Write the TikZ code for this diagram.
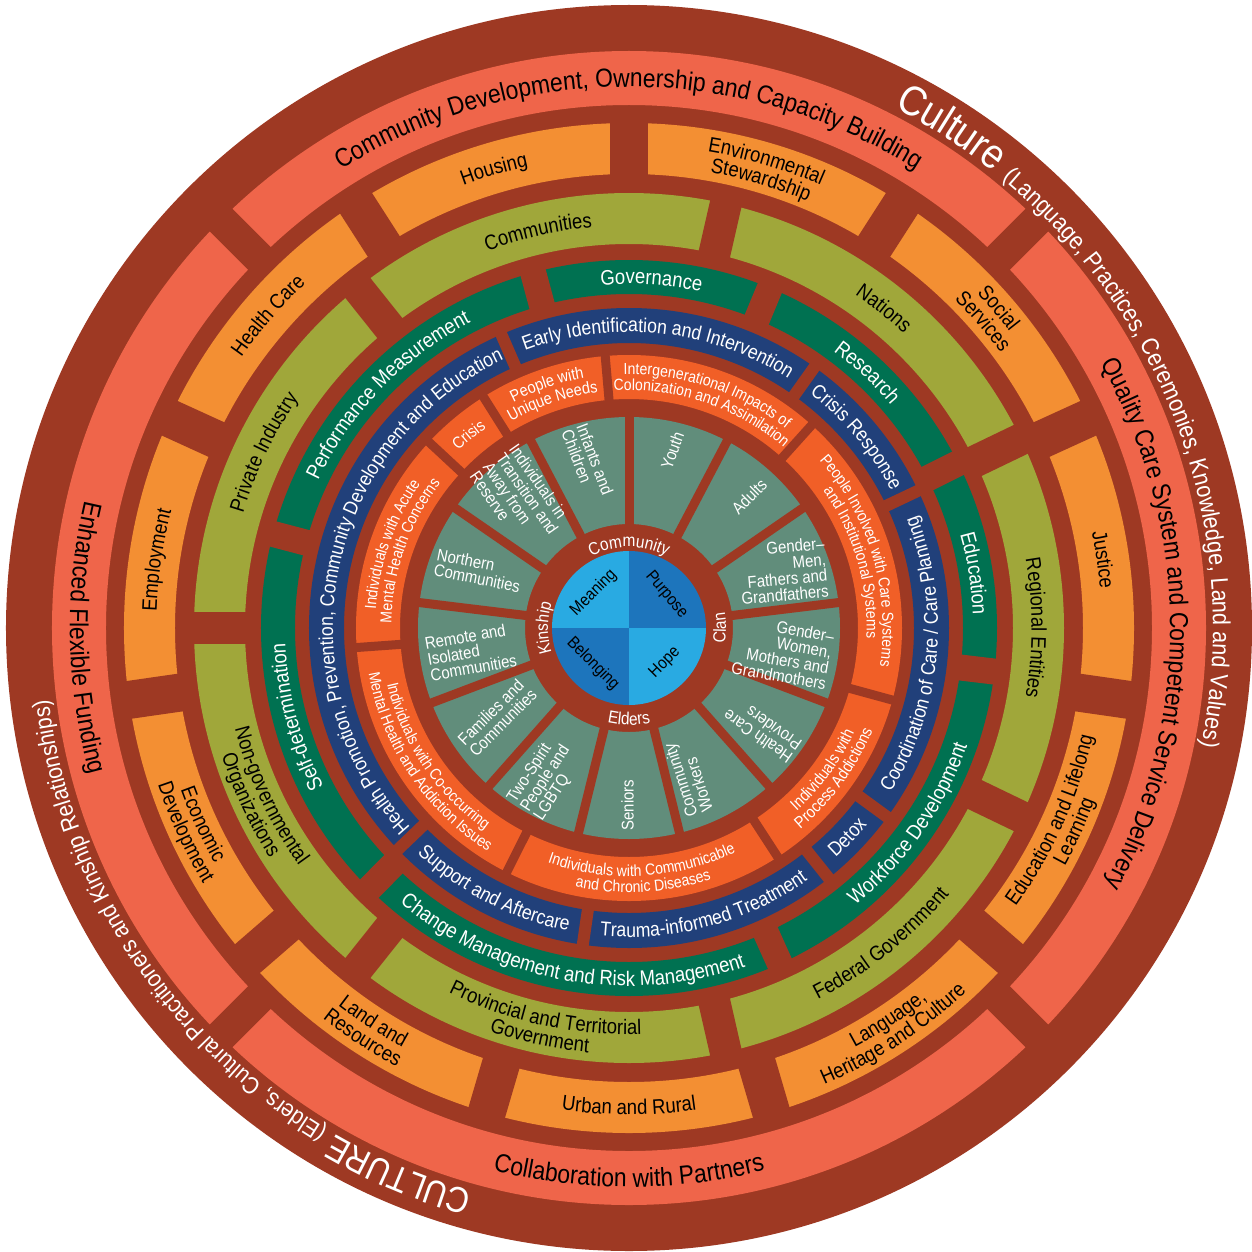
\documentclass[tikz,border=0pt]{standalone}
\usepackage{fontspec}
\setmainfont{Liberation Sans}[FakeStretch=0.88]
\usetikzlibrary{decorations.text}
\definecolor{brn}{RGB}{158,57,35}
\definecolor{salm}{RGB}{239,101,74}
\definecolor{orng}{RGB}{243,143,51}
\definecolor{oliv}{RGB}{160,167,58}
\definecolor{grn}{RGB}{0,113,81}
\definecolor{blu}{RGB}{33,64,122}
\definecolor{ored}{RGB}{241,95,39}
\definecolor{gry}{RGB}{97,141,123}
\definecolor{lblu}{RGB}{41,170,226}
\definecolor{dblu}{RGB}{29,117,188}
\newcommand\cwt[5]{\path[decorate,decoration={text along path,text align=center,text color=#4,
  text={|\fontsize{#3}{#3}\selectfont|#5}}] (#2+75:#1) arc[start angle=#2+75,end angle=#2-75,radius=#1];}
\newcommand\ccwt[5]{\path[decorate,decoration={text along path,text align=center,text color=#4,
  text={|\fontsize{#3}{#3}\selectfont|#5}}] (#2-75:#1) arc[start angle=#2-75,end angle=#2+75,radius=#1];}
\newcommand\ringfill[3]{\fill[#3,even odd rule] (0,0) circle[radius=#2] circle[radius=#1];}
\tikzset{
  gt/.style={text=white,font=\fontsize{17}{16}\selectfont,inner sep=0pt},
  ct/.style={text=black,font=\fontsize{17}{18}\selectfont,inner sep=0pt},
  spoke/.style={draw=brn,line width=#1}
}
\begin{document}
\begin{tikzpicture}[x=1pt,y=1pt]
\useasboundingbox (-629,-623) rectangle (623,628);
\fill[brn] (0,0) circle[radius=623];
% rings
\ringfill{523}{577}{salm}
\ringfill{454}{505}{orng}
\ringfill{384}{435}{oliv}
\ringfill{334}{368}{grn}
\ringfill{285}{320}{blu}
\ringfill{229}{273}{ored}
\ringfill{104}{211}{gry}
% spokes
\foreach \a in {45,135,225,315} \draw[spoke=32pt] (\a:519) -- (\a:581);
\foreach \k in {0,...,10} \draw[spoke=38pt] ({90-\k*360/11}:450) -- ({90-\k*360/11}:509);
\foreach \k in {0,...,6} \draw[spoke=32pt] ({180-\k*360/7}:380) -- ({180-\k*360/7}:439);
\foreach \a in {105.1,67.5,26.6,-6.8,-65.8,-134.9,165.2} \draw[spoke=26pt] (\a:331) -- (\a:371);
\foreach \a in {113.5,54.6,25.4,-36.2,-51.4,-98.3,-136.2} \draw[spoke=12pt] (\a:282) -- (\a:323);
\foreach \a in {137.1,122.2,95.0,48.0,-15.3,-57.0,-116.6,184.1} \draw[spoke=9pt] (\a:226) -- (\a:276);
\foreach \k in {0,...,12} \draw[spoke=9pt] ({90+\k*360/13}:101) -- ({90+\k*360/13}:214);
% centre quadrants
\fill[lblu] (0,0) -- (0,77) arc[start angle=90,end angle=180,radius=77] -- cycle;
\fill[dblu] (0,0) -- (77,0) arc[start angle=0,end angle=90,radius=77] -- cycle;
\fill[dblu] (0,0) -- (-77,0) arc[start angle=180,end angle=270,radius=77] -- cycle;
\fill[lblu] (0,0) -- (0,-77) arc[start angle=270,end angle=360,radius=77] -- cycle;
\node[ct,rotate=45] (meaning) at (135:50) {Meaning};
\node[ct,rotate=-50] (purpose) at (41.7:50) {Purpose};
\node[ct,rotate=-45] (belonging) at (225:51) {Belonging};
\node[ct,rotate=45] (hope) at (-44:50) {Hope};
% outer culture texts
\path[decorate,decoration={text along path,text color=white,
  text={|\fontsize{42}{42}\selectfont|Culture |\fontsize{24.5}{24.5}\selectfont|(Language, Practices, Ceremonies, Knowledge, Land and Values)}}]
  (63:584) arc[start angle=63,end angle=-45,radius=584];
\path[decorate,decoration={text along path,text color=white,
  text={|\fontsize{36}{36}\selectfont|CULTURE |\fontsize{24}{24}\selectfont|(Elders, Cultural Practitioners and Kinship Relationships)}}]
  (254.5:585) arc[start angle=254.5,end angle=150,radius=585];
% salmon
\cwt{541}{90}{26}{black}{Community Development, Ownership and Capacity Building}
\cwt{541}{0.5}{26}{black}{Quality Care System and Competent Service Delivery}
\ccwt{559}{-90}{26}{black}{Collaboration with Partners}
\ccwt{559}{181}{26}{black}{Enhanced Flexible Funding}
% orange
\cwt{472.5}{106.4}{21}{black}{Housing}
\cwt{482.5}{73.6}{21}{black}{Environmental}
\cwt{462.5}{73.6}{21}{black}{Stewardship}
\cwt{482.5}{40.9}{21}{black}{Social}
\cwt{462.5}{40.9}{21}{black}{Services}
\cwt{472.5}{8.2}{21}{black}{Justice}
\ccwt{476.5}{-24.5}{21}{black}{Education and Lifelong}
\ccwt{496.5}{-24.5}{21}{black}{Learning}
\ccwt{476.5}{-56.5}{21}{black}{Language,}
\ccwt{496.5}{-57}{21}{black}{Heritage and Culture}
\ccwt{486.5}{-90}{21}{black}{Urban and Rural}
\ccwt{476.5}{-123}{21}{black}{Land and}
\ccwt{496.5}{-123}{21}{black}{Resources}
\ccwt{476.5}{-155.3}{21}{black}{Economic}
\ccwt{496.5}{-155.3}{21}{black}{Development}
\cwt{472.5}{171.8}{21}{black}{Employment}
\cwt{472.5}{139.1}{21}{black}{Health Care}
% olive
\cwt{402.5}{102.9}{21}{black}{Communities}
\cwt{402.5}{51.4}{21}{black}{Nations}
\cwt{402.5}{0}{21}{black}{Regional Entities}
\ccwt{416.5}{-51.4}{21}{black}{Federal Government}
\ccwt{406.5}{-102.3}{21}{black}{Provincial and Territorial}
\ccwt{426.5}{-102.3}{21}{black}{Government}
\ccwt{406.5}{-155}{21}{black}{Non-governmental}
\ccwt{426.5}{-155}{21}{black}{Organizations}
\cwt{402.5}{154.3}{21}{black}{Private Industry}
% green
\cwt{344}{86.3}{21}{white}{Governance}
\cwt{344}{47}{21}{white}{Research}
\cwt{344}{9}{21}{white}{Education}
\ccwt{358}{-35}{21}{white}{Workforce Development}
\ccwt{358}{-100.4}{21}{white}{Change Management and Risk Management}
\cwt{344}{195}{21}{white}{Self-determination}
\cwt{344}{136}{21}{white}{Performance Measurement}
% blue
\cwt{296}{84}{20}{white}{Early Identification and Intervention}
\cwt{296}{40}{20}{white}{Crisis Response}
\ccwt{309}{-5.4}{20}{white}{Coordination of Care / Care Planning}
\ccwt{309}{-43.8}{20}{white}{Detox}
\ccwt{309}{-75}{20}{white}{Trauma-informed Treatment}
\ccwt{309}{-117.3}{20}{white}{Support and Aftercare}
\cwt{296}{168.7}{20}{white}{Health Promotion, Prevention, Community Development and Education}
% orange-red
\cwt{245.7}{129.7}{16.5}{white}{Crisis}
\cwt{253.7}{108.6}{16.5}{white}{People with}
\cwt{237.7}{108.6}{16.5}{white}{Unique Needs}
\cwt{253.7}{71.5}{16}{white}{Intergenerational Impacts of}
\cwt{237.7}{71.5}{16}{white}{Colonization and Assimilation}
\cwt{253.7}{16.4}{16}{white}{People Involved with Care Systems}
\cwt{237.7}{16.4}{16}{white}{and Institutional Systems}
\ccwt{248.3}{-36.2}{16.5}{white}{Individuals with}
\ccwt{264.3}{-36.2}{16.5}{white}{Process Addictions}
\ccwt{248.3}{-86.8}{16}{white}{Individuals with Communicable}
\ccwt{264.3}{-86.8}{16}{white}{and Chronic Diseases}
\ccwt{248.3}{-146.2}{16}{white}{Individuals with Co-occurring}
\ccwt{264.3}{-146.2}{16}{white}{Mental Health and Addiction Issues}
\cwt{253.7}{160.6}{16}{white}{Individuals with Acute}
\cwt{237.7}{160.6}{16}{white}{Mental Health Concerns}
% inner brown ring
\cwt{81}{90}{17.5}{white}{Community}
\cwt{81}{180}{17.5}{white}{Kinship}
\ccwt{97}{0}{17.5}{white}{Clan}
\ccwt{97}{-90}{17.5}{white}{Elders}
% grey segments
\node[gt,rotate=-69,align=left] (infants) at (104:171) {Infants and\\Children};
\node[gt,rotate=70] (youth) at (76.3:183) {Youth};
\node[gt,rotate=45] (adults) at (47.5:178) {Adults};
\node[gt,rotate=5,align=right] (men) at (154,57) {Gender–\\Men,\\Fathers and\\Grandfathers};
\node[gt,rotate=-10,align=right] (women) at (154,-24) {Gender–\\Women,\\Mothers and\\Grandmothers};
\node[gt,rotate=145,align=left] (hcp) at (-37.5:168) {Health Care\\Providers};
\node[gt,rotate=108,align=left] (cworkers) at (-68.5:161) {Community\\Workers};
\node[gt,rotate=90] (seniors) at (-90.5:177) {Seniors};
\node[gt,rotate=57,align=left] (twospirit) at (-119:172) {Two-Spirit\\People and\\LGBTQ};
\node[gt,rotate=45,align=left] (families) at (-146:159) {Families and\\Communities};
\node[gt,rotate=10,align=left] (remote) at (188.6:160) {Remote and\\Isolated\\Communities};
\node[gt,rotate=-11,align=left] (northern) at (159:161) {Northern\\Communities};
\node[gt,rotate=-55,align=left] (transition) at (129.8:169) {Individuals in\\Transition and\\Away from\\Reserve};
\end{tikzpicture}
\end{document}
